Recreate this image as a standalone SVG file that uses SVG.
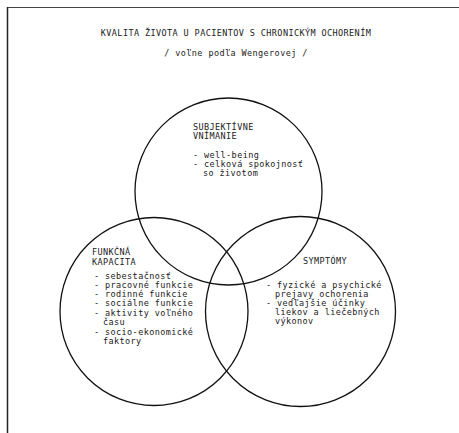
<svg xmlns="http://www.w3.org/2000/svg" width="459" height="433" viewBox="0 0 459 433">
<style>
text{font-family:"DejaVu Sans Mono","Liberation Mono",monospace;font-size:8.5px;letter-spacing:0.4px;fill:#222}
.c{fill:none;stroke:#111;stroke-width:1.3}
</style>
<rect width="459" height="433" fill="#fff"/>
<g id="frame">
<line x1="7" y1="7.5" x2="459" y2="7.5" stroke="#444" stroke-width="1.2"/>
<line x1="7.5" y1="7" x2="7.5" y2="433" stroke="#222" stroke-width="1.5"/>
</g>
<g id="title">
<text x="236" y="36" text-anchor="middle">KVALITA ŽIVOTA U PACIENTOV S CHRONICKÝM OCHORENÍM</text>
<text x="236" y="56" text-anchor="middle">/ voľne podľa Wengerovej /</text>
</g>
<g id="subjektivne">
<circle class="c" cx="228.5" cy="191.5" r="93.5"/>
<text x="193" y="130">SUBJEKTÍVNE</text>
<text x="193" y="139">VNÍMANIE</text>
<text x="193" y="158">- well-being</text>
<text x="193" y="167">- celková spokojnosť</text>
<text x="203" y="176">so životom</text>
</g>
<g id="funkcna">
<circle class="c" cx="154" cy="311.5" r="94"/>
<text x="92" y="255">FUNKČNÁ</text>
<text x="92" y="265">KAPACITA</text>
<text x="94" y="279">- sebestačnosť</text>
<text x="94" y="288">- pracovné funkcie</text>
<text x="94" y="297">- rodinné funkcie</text>
<text x="94" y="306">- sociálne funkcie</text>
<text x="94" y="316">- aktivity voľného</text>
<text x="103" y="325">času</text>
<text x="94" y="335">- socio-ekonomické</text>
<text x="103" y="344">faktory</text>
</g>
<g id="symptomy">
<circle class="c" cx="300.5" cy="311.5" r="95"/>
<text x="303" y="264">SYMPTÓMY</text>
<text x="266" y="288">- fyzické a psychické</text>
<text x="275" y="297">prejavy ochorenia</text>
<text x="266" y="306">- vedľajšie účinky</text>
<text x="275" y="315">liekov a liečebných</text>
<text x="275" y="324">výkonov</text>
</g>
</svg>
